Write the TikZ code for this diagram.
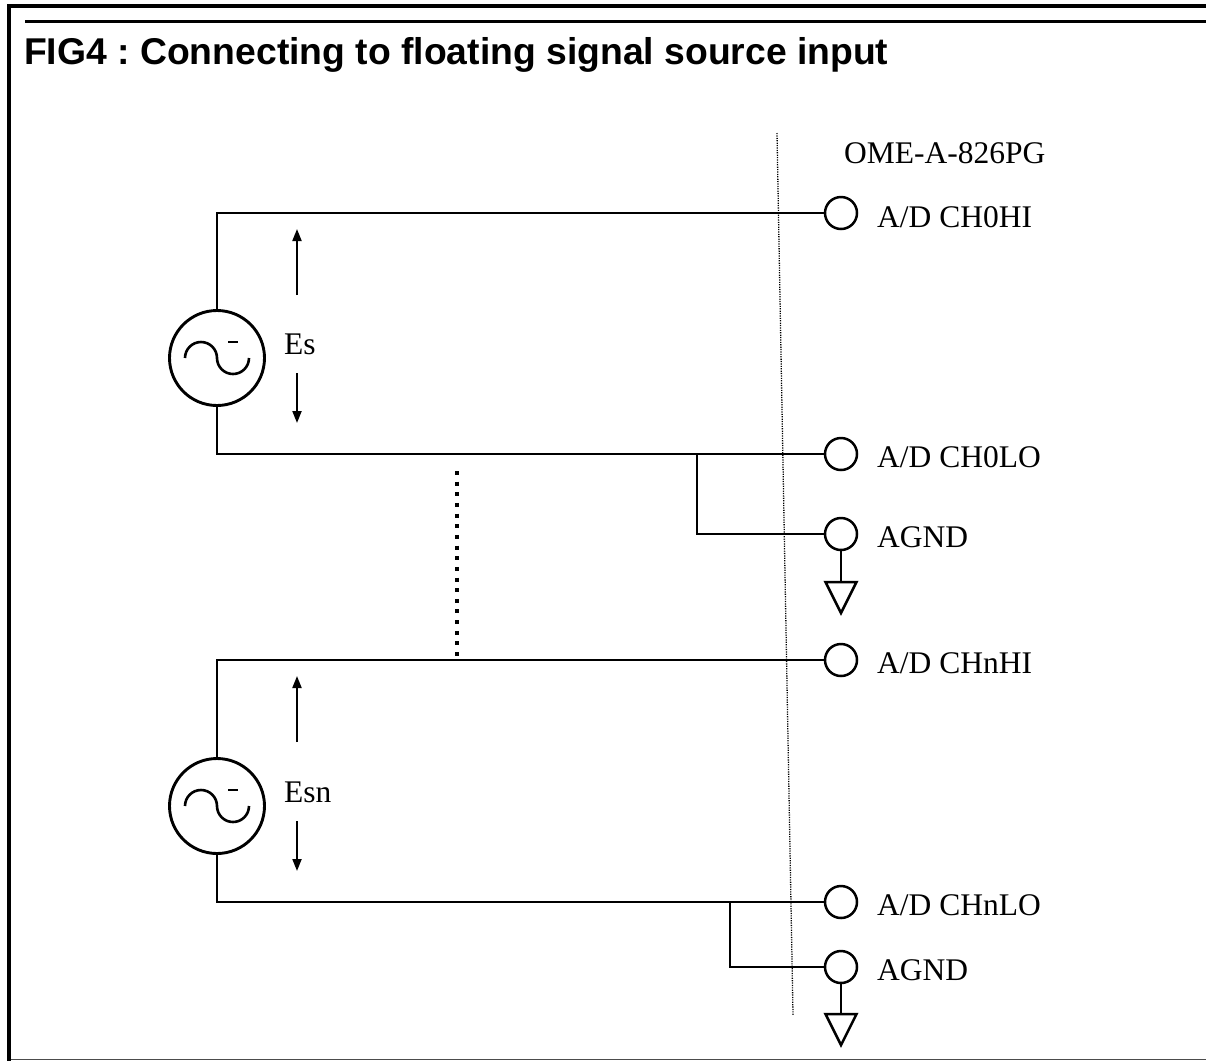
\documentclass[tikz,border=0pt]{standalone}
\usepackage{fontspec}
\setmainfont{Liberation Serif}
\newfontfamily\titlefont{Liberation Sans}
\usetikzlibrary{arrows.meta}
\frenchspacing
\begin{document}
\begin{tikzpicture}[x=1pt,y=-1pt,
  wire/.style={line width=2.9pt},
  term/.style={circle,draw,line width=2.5pt,minimum size=32pt,inner sep=0pt},
  src/.style={circle,draw,line width=2.9pt,minimum size=95pt,inner sep=0pt},
  lbl/.style={anchor=base west,inner sep=0pt,font=\fontsize{31.5}{36}\selectfont},
  varrow/.style={line width=2pt,-{Triangle[length=12pt,width=9pt]}},
  gnd/.style={line width=2.5pt,line join=miter},
  sine/.style={line width=2.6pt},
  sep/.style={line width=1.3pt,dash pattern=on 1.2pt off 1.2pt,black}
]
\useasboundingbox (0,0) rectangle (1206,1061);
% frame
\draw[line width=4.5pt] (9,4) -- (9,1061);
\draw[line width=4pt] (7,6) -- (1206,6);
\draw[line width=3.5pt] (25,21.5) -- (1206,21.5);
\draw[line width=1.5pt,black!70] (11,1059.5) -- (1206,1059.5);
% title
\node[anchor=base west,inner sep=0pt,font=\titlefont\bfseries\fontsize{37.3}{44}\selectfont] (title) at (24,64) {FIG4 : Connecting to floating signal source input};
% separator
\coordinate (sepa) at (777,133);
\coordinate (sepb) at (793,1015);
\draw[sep] (sepa) -- (sepb);
\node[lbl] (dev) at (844,163) {OME-A-826PG};
% terminals
\node[term] (t1) at (841,213) {};
\node[term] (t2) at (841,454) {};
\node[term] (t3) at (841,534) {};
\node[term] (t4) at (841,660) {};
\node[term] (t5) at (841,902) {};
\node[term] (t6) at (841,967) {};
\node[lbl] (l1) at (877,227) {A/D CH0HI};
\node[lbl] (l2) at (877,467) {A/D CH0LO};
\node[lbl] (l3) at (877,547) {AGND};
\node[lbl] (l4) at (877,673) {A/D CHnHI};
\node[lbl] (l5) at (877,915) {A/D CHnLO};
\node[lbl] (l6) at (877,980) {AGND};
% sources
\node[src] (s1) at (217,358) {};
\node[src] (s2) at (217,806) {};
\foreach \s in {s1,s2}{
  \draw[sine] ([shift={(-32,0)}]\s.center) arc[start angle=180,end angle=0,radius=16pt];
  \draw[sine] (\s.center) arc[start angle=180,end angle=360,radius=16pt];
  \draw[line width=1.4pt] ([shift={(11,-16)}]\s.center) -- ([shift={(21,-16)}]\s.center);
}
\node[lbl] (e1) at (284,354) {Es};
\node[lbl] (e2) at (284,802) {Esn};
% wires
\draw[wire] (s1.north) |- (t1.west);
\draw[wire] (s1.south) |- (t2.west);
\coordinate (j1) at (697,454);
\draw[wire] (j1) |- (t3.west);
\draw[wire] (s2.north) |- (t4.west);
\draw[wire] (s2.south) |- (t5.west);
\coordinate (j2) at (730,902);
\draw[wire] (j2) |- (t6.west);
% grounds
\draw[gnd] (t3.south) -- (841,582) coordinate (g1);
\draw[gnd] ([xshift=-15.5pt]g1) -- ([xshift=15.5pt]g1) -- ([yshift=-31pt]g1) -- cycle;
\draw[gnd] (t6.south) -- (841,1014) coordinate (g2);
\draw[gnd] ([xshift=-15.5pt]g2) -- ([xshift=15.5pt]g2) -- ([yshift=-31pt]g2) -- cycle;
% voltage arrows
\coordinate (a1s) at (297,295); \coordinate (a1e) at (297,229);
\coordinate (a2s) at (297,373); \coordinate (a2e) at (297,423);
\coordinate (a3s) at (297,742); \coordinate (a3e) at (297,676);
\coordinate (a4s) at (297,821); \coordinate (a4e) at (297,871);
\draw[varrow] (a1s) -- (a1e);
\draw[varrow] (a2s) -- (a2e);
\draw[varrow] (a3s) -- (a3e);
\draw[varrow] (a4s) -- (a4e);
% continuation dots
\coordinate (d1) at (457,471);
\coordinate (d2) at (457,656);
\draw[line width=4pt,dash pattern=on 4pt off 6.65pt] (d1) -- (d2);
\end{tikzpicture}
\end{document}
